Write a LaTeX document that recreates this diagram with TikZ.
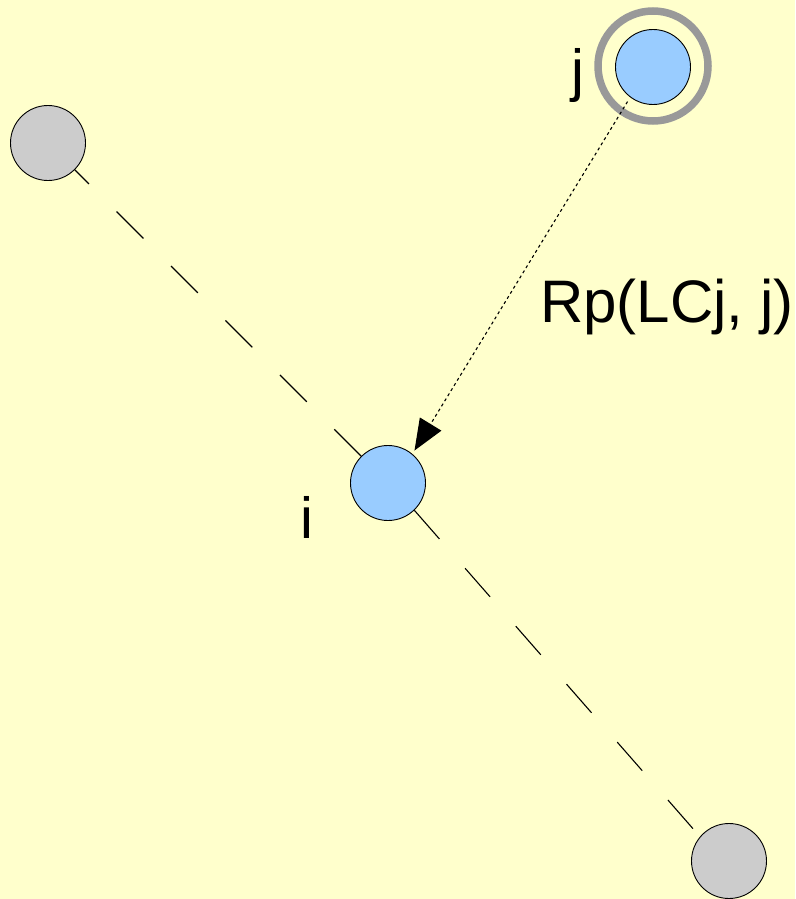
\documentclass[tikz,border=0pt]{standalone}
\usepackage{fontspec}
\setmainfont{Liberation Sans}
\usetikzlibrary{arrows.meta}
\definecolor{bg}{HTML}{FFFFCC}
\definecolor{blu}{HTML}{99CCFF}
\definecolor{gry}{HTML}{CCCCCC}
\definecolor{ringc}{HTML}{999999}
\begin{document}
\begin{tikzpicture}[x=1pt,y=-1pt,
  ball/.style={circle,draw=black,line width=0.9pt,minimum size=75pt,inner sep=0pt},
  lbl/.style={font=\fontsize{58}{60}\selectfont,inner sep=0pt,anchor=base},
  link/.style={line width=1.1pt,dash pattern=on 38pt off 39pt},
  flow/.style={line width=1.1pt,dash pattern=on 3pt off 3pt,-{Triangle[length=31pt,width=25pt]}}]
\fill[bg] (0,0) rectangle (795,899);
\useasboundingbox (0,0) rectangle (795,899);
\node[ball,fill=gry] (tl) at (48,143) {};
\node[ball,fill=gry] (br) at (729,861) {};
\node[ball,fill=blu] (i) at (388,483) {};
\node[ball,fill=blu] (j) at (653,67) {};
\node[circle,draw=ringc,line width=7.5pt,minimum size=110pt,inner sep=0pt] (jring) at (653,66) {};
\draw[link,dash phase=18pt] (tl) -- (i);
\draw[link] (i.-46) -- (br.140);
\draw[flow,shorten <=5pt,shorten >=4pt] (j.233) -- (i.50);
\node[lbl] (jl) at (578,90) {j};
\node[lbl] (il) at (307,538) {i};
\node[lbl,anchor=base west,font=\fontsize{60}{62}\selectfont] (rl) at (540,322) {Rp(LCj, j)};
\end{tikzpicture}
\end{document}
